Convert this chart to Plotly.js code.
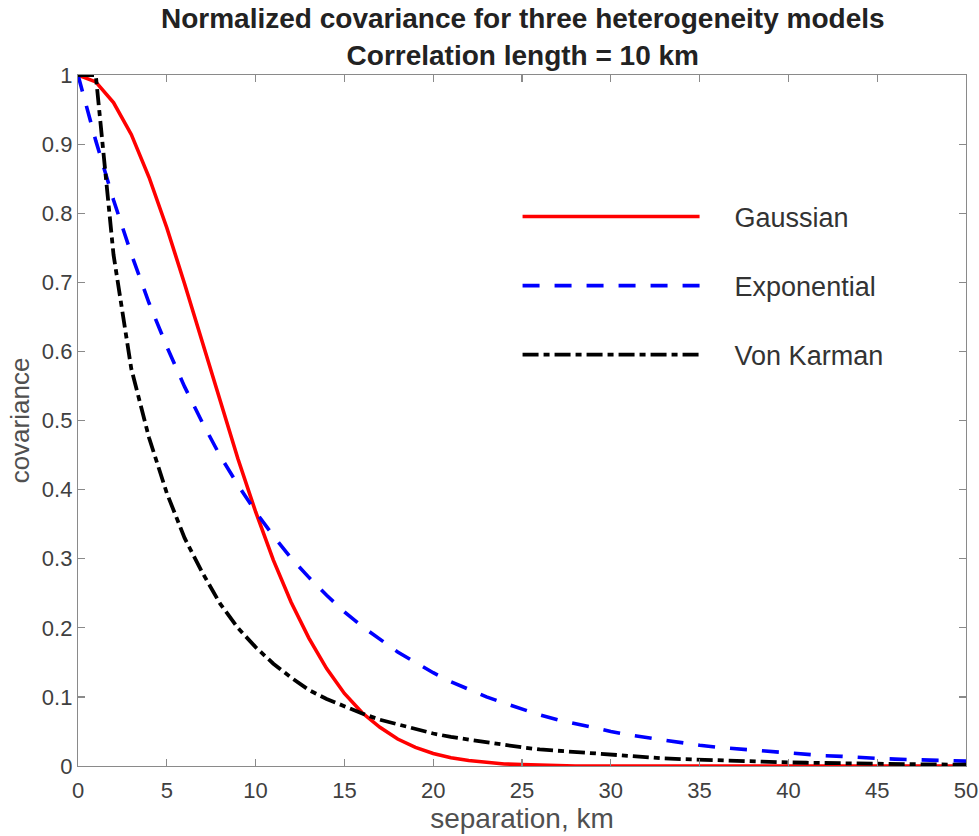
<!DOCTYPE html>
<html>
<head>
<meta charset="utf-8">
<script src="https://cdn.plot.ly/plotly-3.0.1.min.js"></script>
<style>html,body{margin:0;padding:0;background:#fff;}#chart{width:979px;height:836px;}</style>
</head>
<body>
<div id="chart"></div>
<script>
// separation (km)
const separation = [0,1,2,3,4,5,6,7,8,9,10,11,12,13,14,15,16,17,18,19,20,21,22,23,24,25,26,27,28,29,30,31,32,33,34,35,36,37,38,39,40,41,42,43,44,45,46,47,48,49,50];

const gaussian = [1.000,0.990,0.960,0.914,0.852,0.779,0.698,0.613,0.527,0.445,0.368,0.298,0.237,0.185,0.141,0.105,0.077,0.056,0.039,0.027,0.018,0.012,0.008,0.005,0.003,0.002,0.001,0.001,0.000,0.000,0.000,0.000,0.000,0.000,0.000,0.000,0.000,0.000,0.000,0.000,0.000,0.000,0.000,0.000,0.000,0.000,0.000,0.000,0.000,0.000,0.000];

const exponential = [1.000,0.905,0.819,0.741,0.670,0.607,0.549,0.497,0.449,0.407,0.368,0.333,0.301,0.273,0.247,0.223,0.202,0.183,0.165,0.150,0.135,0.122,0.111,0.100,0.091,0.082,0.074,0.067,0.061,0.055,0.050,0.045,0.041,0.037,0.033,0.030,0.027,0.025,0.022,0.020,0.018,0.017,0.015,0.014,0.012,0.011,0.010,0.009,0.008,0.007,0.007];

const vonKarman = [1.000,1.000,0.740,0.575,0.475,0.395,0.330,0.280,0.235,0.200,0.172,0.148,0.128,0.110,0.097,0.086,0.076,0.067,0.060,0.053,0.047,0.042,0.038,0.034,0.030,0.027,0.024,0.022,0.020,0.018,0.016,0.014,0.013,0.011,0.010,0.009,0.008,0.007,0.0065,0.006,0.0052,0.0047,0.0042,0.0038,0.0034,0.003,0.0027,0.0025,0.0023,0.0021,0.002];

const seriesNames = ['Gaussian','Exponential','Von Karman'];
const xTicks = [0,5,10,15,20,25,30,35,40,45,50];
const yTicks = [0,0.1,0.2,0.3,0.4,0.5,0.6,0.7,0.8,0.9,1];
const yTickText = ['0','0.1','0.2','0.3','0.4','0.5','0.6','0.7','0.8','0.9','1'];

const FONT = 'Liberation Sans, Arial, Helvetica, sans-serif';
const PAD = '\u00a0\u00a0\u00a0\u00a0';

const traces = [
  {x: separation, y: gaussian, name: PAD + seriesNames[0], mode: 'lines', legendgroup: 'g1',
   line: {color: '#ff0000', width: 3.6}},
  {x: separation, y: exponential, name: PAD + seriesNames[1], mode: 'lines', legendgroup: 'g2',
   line: {color: '#0000ff', width: 3.6, dash: '17px,15px'}},
  {x: separation, y: vonKarman, name: PAD + seriesNames[2], mode: 'lines', legendgroup: 'g3',
   line: {color: '#000000', width: 3.8, dash: '16px,5px,6px,5px'}}
];

const axisCommon = {
  showgrid: false, zeroline: false, showline: true, mirror: 'ticks',
  linecolor: '#8a8a8a', linewidth: 1.2,
  ticks: 'inside', ticklen: 7, tickcolor: '#8a8a8a', tickwidth: 1.2,
  tickfont: {family: FONT, size: 22, color: '#404040'}
};

const layout = {
  width: 979, height: 836,
  paper_bgcolor: '#ffffff', plot_bgcolor: '#ffffff',
  margin: {l: 78, r: 13, t: 75, b: 70},
  title: {
    text: '<b>Normalized covariance for three heterogeneity models</b><br><b>Correlation length = 10 km</b>',
    font: {family: FONT, size: 28, color: '#222222'},
    x: 0.534, xanchor: 'center', yref: 'container', y: 0.966, yanchor: 'middle'
  },
  xaxis: Object.assign({}, axisCommon, {
    range: [0, 50], tickvals: xTicks, ticklabelstandoff: 4,
    title: {text: 'separation, km', font: {family: FONT, size: 28, color: '#505050'}, standoff: 6}
  }),
  yaxis: Object.assign({}, axisCommon, {
    range: [0, 1], tickvals: yTicks, ticktext: yTickText,
    title: {text: 'covariance', font: {family: FONT, size: 26, color: '#505050'}, standoff: 4}
  }),
  showlegend: true,
  legend: {
    x: 0.495, xanchor: 'left', y: 0.83, yanchor: 'top',
    bgcolor: 'rgba(0,0,0,0)', borderwidth: 0,
    font: {family: FONT, size: 27, color: '#333333'},
    itemwidth: 177, tracegroupgap: 31, traceorder: 'grouped'
  }
};

Plotly.newPlot('chart', traces, layout, {displayModeBar: false, staticPlot: true});
</script>
</body>
</html>
